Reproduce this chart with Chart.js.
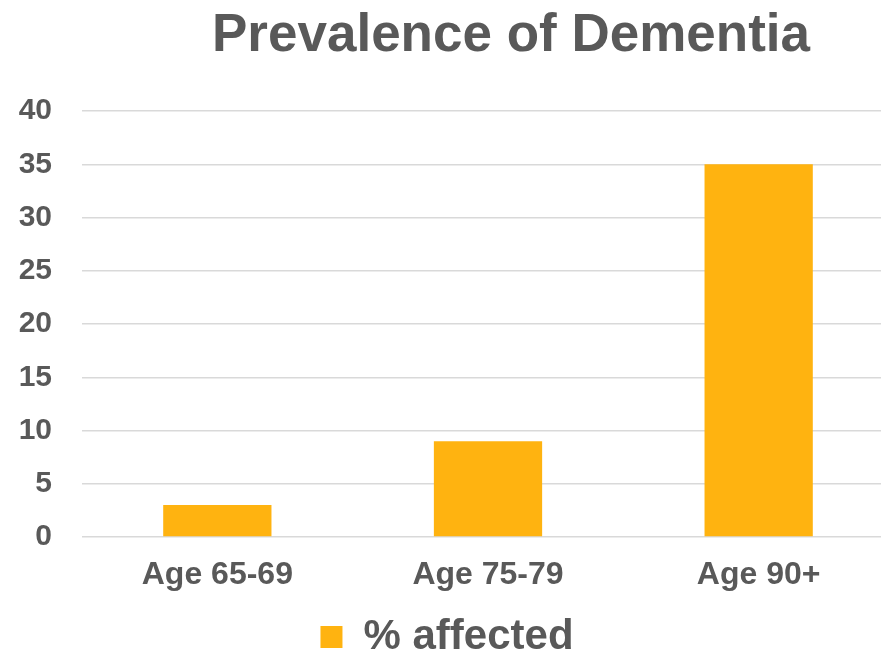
<!DOCTYPE html>
<html>
<head>
<meta charset="utf-8">
<script src="https://cdn.jsdelivr.net/npm/chart.js@4/dist/chart.umd.min.js"></script>
<style>
  html, body { margin: 0; padding: 0; background: #fff; overflow: hidden; }
  #wrap { width: 894px; height: 651px; }
</style>
</head>
<body>
<div id="wrap"><canvas id="myChart" width="894" height="651"></canvas></div>
<script>
var chartTitle = 'Prevalence of Dementia';
var categories = ['Age 65-69', 'Age 75-79', 'Age 90+'];
var seriesName = '% affected';
var affected = [3, 9, 35];
var yTicks = [0, 5, 10, 15, 20, 25, 30, 35, 40];

var textColor = '#595959';
var barColor = '#ffb310';
var fontFamily = '"Liberation Sans", Arial, sans-serif';

// title drawn by hand so it can sit off-centre like the original
var titlePlugin = {
    id: 'offsetTitle',
    afterDraw: function (chart) {
        var ctx = chart.ctx;
        ctx.save();
        ctx.font = 'bold 53px ' + fontFamily;
        ctx.fillStyle = textColor;
        ctx.textAlign = 'center';
        ctx.textBaseline = 'alphabetic';
        ctx.fillText(chartTitle, 511, 51);
        ctx.restore();
    }
};

function createChart() {
    var ctx = document.getElementById('myChart').getContext('2d');
    new Chart(ctx, {
        type: 'bar',
        data: {
            labels: categories,
            datasets: [{
                label: seriesName,
                data: affected,
                backgroundColor: barColor,
                borderWidth: 0,
                categoryPercentage: 0.8,
                barPercentage: 0.5
            }]
        },
        options: {
            responsive: false,
            animation: false,
            layout: { padding: { top: 111, left: 0, right: 0, bottom: -17 } },
            plugins: {
                title: { display: false },
                tooltip: { enabled: false },
                legend: {
                    position: 'bottom',
                    labels: {
                        color: textColor,
                        boxWidth: 22,
                        boxHeight: 22,
                        padding: 10,
                        font: { family: fontFamily, size: 42, weight: 'bold' }
                    }
                }
            },
            scales: {
                x: {
                    afterFit: function (scale) { scale.height = 69; },
                    grid: { display: false, drawTicks: false },
                    border: { display: false },
                    ticks: {
                        color: textColor,
                        padding: 19,
                        font: { family: fontFamily, size: 32, weight: 'bold' }
                    }
                },
                y: {
                    min: 0,
                    max: 40,
                    afterFit: function (scale) { scale.width = 82; },
                    afterBuildTicks: function (scale) {
                        scale.ticks = yTicks.map(function (v) { return { value: v }; });
                    },
                    grid: { color: '#d9d9d9', lineWidth: 1.5, drawTicks: false },
                    border: { display: false },
                    ticks: {
                        color: textColor,
                        padding: 30,
                        font: { family: fontFamily, size: 30, weight: 'bold' }
                    }
                }
            }
        },
        plugins: [titlePlugin]
    });
}
createChart();
</script>
</body>
</html>
